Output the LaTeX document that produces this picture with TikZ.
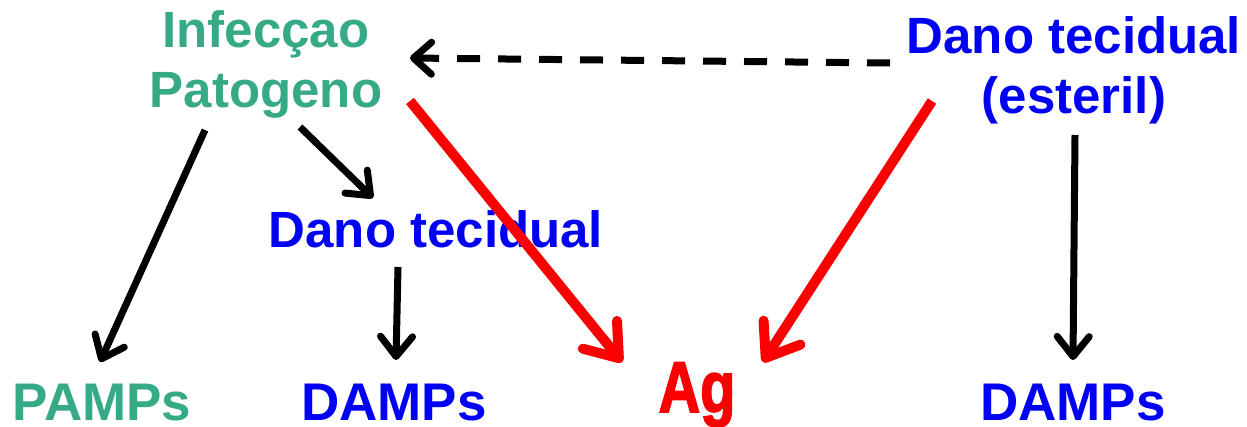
\documentclass[tikz,border=0pt]{standalone}
\usepackage{fontspec}
\setmainfont{Liberation Sans}
\newfontfamily\agfont{Liberation Sans Bold}[FakeBold=2.5]
\usetikzlibrary{arrows.meta}
\definecolor{pathgreen}{RGB}{54,170,135}
\definecolor{dmgblue}{RGB}{0,0,245}
\definecolor{agred}{RGB}{250,0,0}
\tikzset{
  lbl/.style={inner sep=0pt, font=\bfseries\fontsize{51}{60}\selectfont, align=center},
  biglbl/.style={inner sep=0pt, font=\bfseries\fontsize{53}{60}\selectfont},
  greenlbl/.style={lbl, text=pathgreen},
  bluelbl/.style={lbl, text=dmgblue},
  blackarrow/.style={line width=7pt, -{Straight Barb[length=20pt,width=32pt,round]}},
  redarrow/.style={draw=agred, line width=10pt, -{Straight Barb[length=30pt,width=44pt,round]}},
  dasharrow/.style={line width=7pt, dash pattern=on 23pt off 18pt, -{Straight Barb[length=18pt,width=32pt,round]}}
}
\begin{document}
\begin{tikzpicture}[x=1pt,y=-1pt]
  \useasboundingbox (0,0) rectangle (1247,426);
  % sources
  \node[greenlbl] (inf) at (266,64) {Infecçao\\Patogeno};
  \node[bluelbl] (est) at (1074,70) {Dano tecidual\\(esteril)};
  \node[bluelbl, anchor=base] (mid) at (436,247) {Dano tecidual};
  % bottom row
  \node[biglbl, text=pathgreen, anchor=base] (pamps) at (102,420) {PAMPs};
  \node[biglbl, text=dmgblue, anchor=base] (damps1) at (394,420) {DAMPs};
  \node[inner sep=0pt, anchor=base, text=agred] (ag) at (697,412)
    {\scalebox{0.8}[1]{\agfont\fontsize{72}{80}\selectfont Ag}};
  \node[biglbl, text=dmgblue, anchor=base] (damps2) at (1073,420) {DAMPs};
  % connectors
  \draw[dasharrow] ([shift={(-184,-7)}]est.center) -- ([shift={(144,-6)}]inf.center);
  \draw[blackarrow] ([shift={(-61,66)}]inf.center) -- ([shift={(-2,-58)}]pamps.base);
  \draw[blackarrow] ([shift={(34,63)}]inf.center) -- ([shift={(-63,-49)}]mid.base);
  \draw[blackarrow] ([shift={(-38,20)}]mid.base) -- ([shift={(2,-60)}]damps1.base);
  \draw[blackarrow] ([shift={(1,65)}]est.center) -- ([shift={(0,-60)}]damps2.base);
  \draw[redarrow] ([shift={(144,37)}]inf.center) -- ([shift={(-75,-50)}]ag.base);
  \draw[redarrow] ([shift={(-142,31)}]est.center) -- ([shift={(66,-50)}]ag.base);
\end{tikzpicture}
\end{document}
